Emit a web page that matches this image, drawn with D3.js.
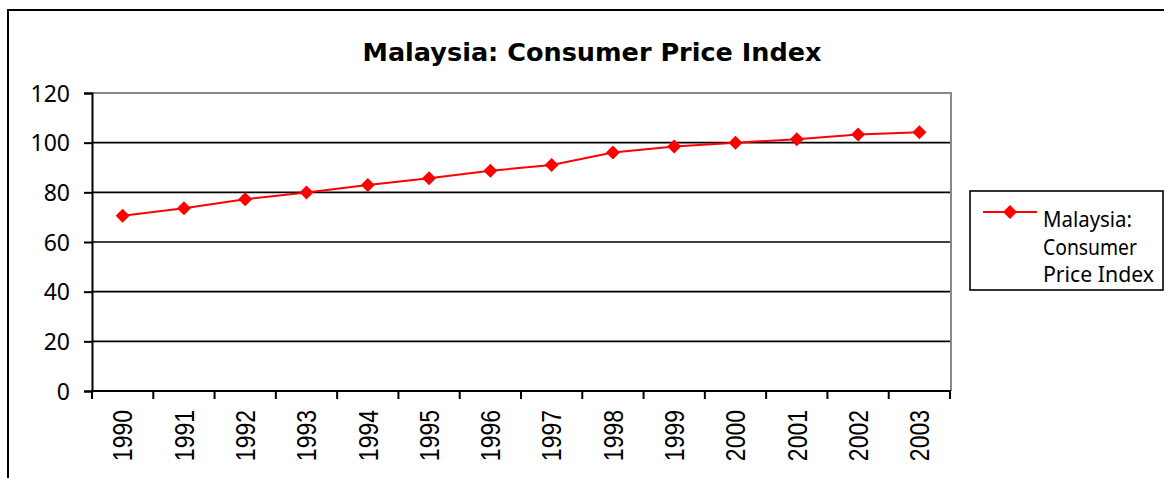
<!DOCTYPE html>
<html>
<head>
<meta charset="utf-8">
<script src="https://cdn.jsdelivr.net/npm/d3@7"></script>
<style>
  html, body { margin: 0; padding: 0; background: #fff; }
  svg { display: block; }
</style>
</head>
<body>
<svg id="chart" width="1164" height="478"></svg>
<script>
const years = ["1990","1991","1992","1993","1994","1995","1996","1997","1998","1999","2000","2001","2002","2003"];
const cpiValues = [70.6, 73.6, 77.2, 79.9, 83.0, 85.7, 88.7, 91.0, 96.0, 98.5, 100.0, 101.4, 103.3, 104.2];
const yTicks = [0, 20, 40, 60, 80, 100, 120];
const titleText = "Malaysia: Consumer Price Index";
const legendLines = ["Malaysia:", "Consumer", "Price Index"];

const svg = d3.select("#chart");

// outer chart border
svg.append("rect")
  .attr("x", 8).attr("y", 10)
  .attr("width", 1200).attr("height", 520)
  .attr("fill", "#fff").attr("stroke", "#000").attr("stroke-width", 2);

const plot = { left: 92, right: 950, top: 93, bottom: 391 };

const x = d3.scaleBand().domain(years).range([plot.left, plot.right]).padding(0);
const y = d3.scaleLinear().domain([0, 120]).range([plot.bottom, plot.top]);

// gridlines
svg.append("g").selectAll("line")
  .data(yTicks.filter(t => t > 0 && t < 120))
  .join("line")
  .attr("x1", plot.left).attr("x2", plot.right + 1)
  .attr("y1", d => y(d)).attr("y2", d => y(d))
  .attr("stroke", "#000").attr("stroke-width", 1.6);

// plot area top/right border (gray)
svg.append("path")
  .attr("d", `M${plot.left},${y(120)}H${plot.right + 1}V${plot.bottom}`)
  .attr("fill", "none").attr("stroke", "#888").attr("stroke-width", 2);

// y axis
const yAxis = d3.axisLeft(y).tickValues(yTicks).tickSize(8).tickPadding(14);
const gy = svg.append("g").attr("transform", `translate(${plot.left},0)`).call(yAxis);
gy.select(".domain").attr("stroke", "#000").attr("stroke-width", 2);
gy.selectAll(".tick line").attr("stroke", "#000").attr("stroke-width", 2);
gy.selectAll(".tick text")
  .attr("font-family", "'Noto Sans', sans-serif")
  .attr("font-size", 23)
  .attr("fill", "#000")
  .attr("dy", "0.36em");

// x axis
const gx = svg.append("g").attr("transform", `translate(0,${plot.bottom})`);
gx.append("line")
  .attr("x1", plot.left - 1).attr("x2", plot.right + 1)
  .attr("y1", 0).attr("y2", 0)
  .attr("stroke", "#000").attr("stroke-width", 2);
const boundaries = years.map(d => x(d)).concat([x(years[years.length - 1]) + x.bandwidth()]);
gx.selectAll("line.tk").data(boundaries).join("line")
  .attr("class", "tk")
  .attr("x1", d => d).attr("x2", d => d)
  .attr("y1", 0).attr("y2", 8)
  .attr("stroke", "#000").attr("stroke-width", 2);
gx.selectAll("text").data(years).join("text")
  .attr("transform", d => `translate(${x(d) + x.bandwidth() / 2},19) rotate(-90) scale(1,1.2)`)
  .attr("text-anchor", "end")
  .attr("dominant-baseline", "central")
  .attr("font-family", "'Liberation Sans', Arial, sans-serif")
  .attr("font-size", 23)
  .attr("fill", "#000")
  .text(d => d);

// line
const line = d3.line()
  .x((d, i) => x(years[i]) + x.bandwidth() / 2)
  .y(d => y(d));
svg.append("path")
  .datum(cpiValues)
  .attr("d", line)
  .attr("fill", "none")
  .attr("stroke", "#ff0000")
  .attr("stroke-width", 2);

const diamond = "M0,-7L7,0L0,7L-7,0Z";
svg.append("g").selectAll("path")
  .data(cpiValues)
  .join("path")
  .attr("transform", (d, i) => `translate(${x(years[i]) + x.bandwidth() / 2},${y(d)})`)
  .attr("d", diamond)
  .attr("fill", "#ff0000");

// title
svg.append("text")
  .attr("x", 592).attr("y", 61)
  .attr("text-anchor", "middle")
  .attr("font-family", "'DejaVu Sans', sans-serif")
  .attr("font-weight", "bold")
  .attr("font-size", 25)
  .attr("textLength", 459)
  .attr("lengthAdjust", "spacingAndGlyphs")
  .attr("fill", "#000")
  .text(titleText);

// legend
const legendWidths = [89, 94, 111];
const lg = svg.append("g");
lg.append("rect")
  .attr("x", 970).attr("y", 191)
  .attr("width", 193).attr("height", 99)
  .attr("fill", "#fff").attr("stroke", "#000").attr("stroke-width", 1.6);
lg.append("line")
  .attr("x1", 983).attr("x2", 1037).attr("y1", 212).attr("y2", 212)
  .attr("stroke", "#ff0000").attr("stroke-width", 2);
lg.append("path")
  .attr("transform", "translate(1010,212)")
  .attr("d", diamond).attr("fill", "#ff0000");
lg.selectAll("text").data(legendLines).join("text")
  .attr("x", 1043)
  .attr("y", (d, i) => 227 + i * 27.5)
  .attr("font-family", "'Noto Sans', sans-serif")
  .attr("font-size", 21)
  .attr("textLength", (d, i) => legendWidths[i])
  .attr("lengthAdjust", "spacingAndGlyphs")
  .attr("fill", "#000")
  .text(d => d);
</script>
</body>
</html>
